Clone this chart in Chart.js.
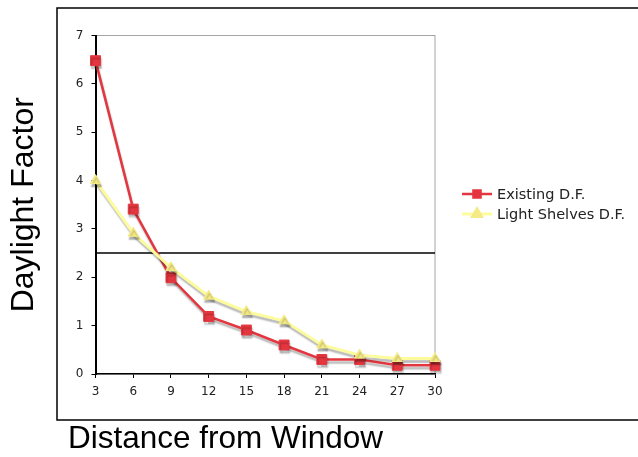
<!DOCTYPE html>
<html>
<head>
<meta charset="utf-8">
<script src="https://cdn.jsdelivr.net/npm/chart.js@4.4.1/dist/chart.umd.min.js"></script>
<style>
  html, body { margin: 0; padding: 0; background: #fff; }
  #wrap { width: 638px; height: 457px; position: relative; }
</style>
</head>
<body>
<div id="wrap"><canvas id="chart"></canvas></div>
<script>
// values
const distances = [3, 6, 9, 12, 15, 18, 21, 24, 27, 30];
const existingDF = [6.48, 3.41, 1.99, 1.19, 0.91, 0.6, 0.3, 0.3, 0.18, 0.18];
const shelvesDF = [4.0, 2.91, 2.2, 1.61, 1.29, 1.1, 0.6, 0.39, 0.32, 0.32];
const seriesLabels = ["Existing D.F.", "Light Shelves D.F."];
const targetDF = 2.5;
const xTitle = "Distance from Window";
const yTitle = "Daylight Factor";

const RED = "#e4363f";
const YELLOW = "#fdfc9c";
const YELLOW_MARK = "#f4ea86";
const TICK_FONT = { family: "DejaVu Sans", size: 12 };

const toPoints = (vals) => vals.map((v, i) => ({ x: distances[i], y: v }));

// frame, target line, x title, legend and the grey drop shadow under the lines
const extras = {
  id: "extras",
  beforeDraw(chart) {
    const { ctx, chartArea: a } = chart;
    ctx.save();
    ctx.strokeStyle = "#000";
    ctx.lineWidth = 1.5;
    ctx.strokeRect(57, 8, 700, 412);
    ctx.strokeStyle = "#a6a6a6";
    ctx.lineWidth = 1;
    ctx.strokeRect(a.left, a.top, a.right - a.left, a.bottom - a.top);
    ctx.restore();
  },
  beforeDatasetsDraw(chart) {
    const { ctx, chartArea: a, scales } = chart;
    const y = scales.y.getPixelForValue(targetDF);
    ctx.save();
    ctx.strokeStyle = "#000";
    ctx.lineWidth = 1.5;
    ctx.beginPath();
    ctx.moveTo(a.left, y);
    ctx.lineTo(a.right, y);
    ctx.stroke();
    ctx.restore();
  },
  beforeDatasetDraw(chart) {
    const ctx = chart.ctx;
    ctx.save();
    ctx.shadowColor = "rgba(0,0,0,0.28)";
    ctx.shadowOffsetX = 1;
    ctx.shadowOffsetY = 3;
    ctx.shadowBlur = 1.5;
  },
  afterDatasetDraw(chart) {
    chart.ctx.restore();
  },
  afterDraw(chart) {
    const ctx = chart.ctx;
    ctx.save();
    ctx.fillStyle = "#000";
    ctx.font = '31.5px "Liberation Sans"';
    ctx.textBaseline = "alphabetic";
    ctx.fillText(xTitle, 68, 448);

    // legend
    ctx.font = '14.5px "DejaVu Sans"';
    ctx.textBaseline = "middle";
    chart.data.datasets.forEach((ds, i) => {
      const y = 194 + i * 20;
      ctx.strokeStyle = ds.borderColor;
      ctx.lineWidth = ds.borderWidth;
      ctx.beginPath();
      ctx.moveTo(462, y);
      ctx.lineTo(492, y);
      ctx.stroke();
      ctx.fillStyle = ds.pointBackgroundColor;
      ctx.strokeStyle = ds.pointBackgroundColor;
      Chart.helpers.drawPoint(ctx, { pointStyle: ds.pointStyle, radius: 5, rotation: 0, borderWidth: 1 }, 477, y);
      ctx.fillStyle = "#222";
      ctx.fillText(ds.label, 497, y + 1);
    });
    ctx.restore();
  }
};

new Chart(document.getElementById("chart"), {
  type: "line",
  data: {
    datasets: [
      {
        label: seriesLabels[0],
        data: toPoints(existingDF),
        borderColor: RED,
        borderWidth: 2.5,
        pointStyle: "rect",
        pointRadius: 7,
        pointBackgroundColor: RED,
        pointBorderColor: RED,
        pointBorderWidth: 1,
        tension: 0,
        clip: false,
        order: 2
      },
      {
        label: seriesLabels[1],
        data: toPoints(shelvesDF),
        borderColor: YELLOW,
        borderWidth: 3,
        pointStyle: "triangle",
        pointRadius: 6,
        pointBackgroundColor: YELLOW_MARK,
        pointBorderColor: YELLOW_MARK,
        pointBorderWidth: 1,
        tension: 0,
        clip: false,
        order: 1
      }
    ]
  },
  options: {
    responsive: true,
    maintainAspectRatio: false,
    animation: false,
    layout: { padding: { left: 0, top: 35.5, right: 203, bottom: 0 } },
    plugins: { legend: { display: false }, tooltip: { enabled: false } },
    scales: {
      x: {
        type: "linear",
        min: 3,
        max: 30,
        afterFit: (s) => { s.height = 83; },
        ticks: { stepSize: 3, padding: 7, color: "#222", font: TICK_FONT },
        grid: { drawOnChartArea: false, drawTicks: true, tickLength: 4, color: "#000" },
        border: { color: "#000", width: 1.5 }
      },
      y: {
        min: 0,
        max: 7,
        afterFit: (s) => { s.width = 95.5; },
        ticks: { stepSize: 1, padding: 8, color: "#222", font: TICK_FONT },
        grid: { drawOnChartArea: false, drawTicks: true, tickLength: 4, color: "#000" },
        border: { color: "#000", width: 2 },
        title: {
          display: true,
          text: yTitle,
          color: "#000",
          font: { family: "Liberation Sans", size: 32 },
          padding: { top: 5, bottom: 0 }
        }
      }
    }
  },
  plugins: [extras]
});
</script>
</body>
</html>
